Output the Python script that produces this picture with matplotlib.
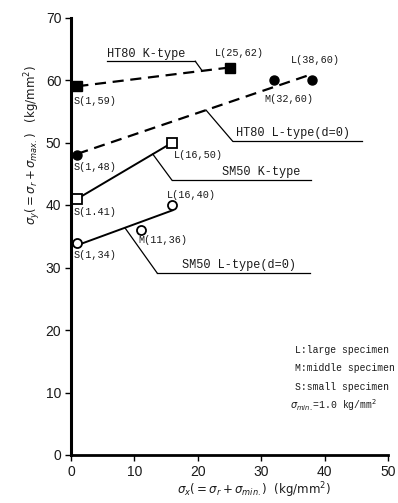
import numpy as np
import matplotlib
matplotlib.use("Agg")
import matplotlib.pyplot as plt

# ---- data (kg/mm^2) ----
ht80_k_x = [1, 25]
ht80_k_y = [59, 62]
ht80_k_labels = ["S(1,59)", "L(25,62)"]

ht80_l_x = [1, 32, 38]
ht80_l_y = [48, 60, 60]
ht80_l_labels = ["S(1,48)", "M(32,60)", "L(38,60)"]

sm50_k_x = [1, 16]
sm50_k_y = [41, 50]
sm50_k_labels = ["S(1.41)", "L(16,50)"]

sm50_l_x = [1, 11, 16]
sm50_l_y = [34, 36, 40]
sm50_l_labels = ["S(1,34)", "M(11,36)", "L(16,40)"]

x_ticks = [0, 10, 20, 30, 40, 50]
y_ticks = [0, 10, 20, 30, 40, 50, 60, 70]

legend_lines = ["L:large specimen", "M:middle specimen", "S:small specimen",
                r"$\sigma_{min.}$=1.0 kg/mm$^2$"]

MONO = "Liberation Mono"
INK = "#1a1a1a"

fig = plt.figure(figsize=(3.98, 5.03), dpi=100)
ax = fig.add_axes([71 / 398, 48 / 503, 317 / 398, 437.5 / 503])
ax.set_xlim(0, 50)
ax.set_ylim(0, 70)
for s in ("top", "right"):
    ax.spines[s].set_visible(False)
ax.spines["left"].set_linewidth(2.2)
ax.spines["bottom"].set_linewidth(2.0)
ax.set_xticks(x_ticks)
ax.set_yticks(y_ticks)
ax.tick_params(direction="out", length=4, width=1, labelsize=10, pad=3,
               labelcolor=INK)
for lab in ax.get_xticklabels() + ax.get_yticklabels():
    lab.set_family("Liberation Sans")


def fit_line(x, y):
    k, b = np.polyfit(x, y, 1)
    return lambda t: k * np.asarray(t) + b


# HT80 K-type: dashed line joining the two specimens
ax.plot(ht80_k_x, ht80_k_y, color="black", lw=1.6, ls=(0, (5, 3)))
ax.plot(ht80_k_x, ht80_k_y, ls="none", marker="s", ms=6.5, color="black")

# HT80 L-type: least-squares dashed line
f_ht80_l = fit_line(ht80_l_x, ht80_l_y)
xs = np.array([min(ht80_l_x), max(ht80_l_x)])
ax.plot(xs, f_ht80_l(xs), color="black", lw=1.6, ls=(0, (5, 3)))
ax.plot(ht80_l_x, ht80_l_y, ls="none", marker="o", ms=6.5, color="black")

# SM50 K-type: solid line joining the two specimens
ax.plot(sm50_k_x, sm50_k_y, color="black", lw=1.4)
ax.plot(sm50_k_x, sm50_k_y, ls="none", marker="s", ms=6.5, mfc="white",
        mec="black", mew=1.3)

# SM50 L-type: least-squares solid line
f_sm50_l = fit_line(sm50_l_x, sm50_l_y)
xs = np.array([min(sm50_l_x), max(sm50_l_x)])
ax.plot(xs, f_sm50_l(xs), color="black", lw=1.4)
ax.plot(sm50_l_x, sm50_l_y, ls="none", marker="o", ms=6.5, mfc="white",
        mec="black", mew=1.3)

# point labels, offset (pixels) from each marker
def point_labels(xv, yv, labels, offsets):
    for x, y, t, (dx, dy) in zip(xv, yv, labels, offsets):
        ax.annotate(t, (x, y), xytext=(dx, dy), textcoords="offset pixels",
                    ha="left", va="center", fontsize=7.3, family=MONO,
                    color=INK)

point_labels(ht80_k_x, ht80_k_y, ht80_k_labels, [(-4, -15), (-15, 14)])
point_labels(ht80_l_x, ht80_l_y, ht80_l_labels, [(-4, -12), (-10, -19), (-21, 20)])
point_labels(sm50_k_x, sm50_k_y, sm50_k_labels, [(-4, -13), (1, -13)])
point_labels(sm50_l_x, sm50_l_y, sm50_l_labels, [(-4, -12), (-2, -10), (-6, 10)])


# series names, underlined, with a leader to the line
def series_name(text, tx, ty, ux0, ux1, uy, lead_x, line_f, lead_from_left=True):
    ax.text(tx, ty, text, ha="left", va="center", fontsize=8.6, family=MONO,
            color=INK)
    ax.plot([ux0, ux1], [uy, uy], color="black", lw=0.9)
    sx = ux0 if lead_from_left else ux1
    ax.plot([sx, lead_x], [uy, float(line_f(lead_x))], color="black", lw=0.9)


f_ht80_k = fit_line(ht80_k_x, ht80_k_y)
f_sm50_k = fit_line(sm50_k_x, sm50_k_y)

series_name("HT80 K-type", 5.7, 64.1, 5.7, 19.6, 63.0, 20.7, f_ht80_k,
            lead_from_left=False)
series_name("HT80 L-type(d=0)", 26.0, 51.5, 25.5, 45.9, 50.2, 21.3, f_ht80_l)
series_name("SM50 K-type", 23.8, 45.2, 15.9, 37.9, 44.0, 12.9, f_sm50_k)
series_name("SM50 L-type(d=0)", 17.5, 30.4, 13.6, 37.7, 29.1, 8.5, f_sm50_l)

# explanatory notes
for i, t in enumerate(legend_lines):
    xoff = 35.3 if i < 3 else 34.5
    ax.text(xoff, 16.8 - 2.95 * i, t, ha="left", va="center", fontsize=7,
            family=MONO, color=INK)

# axis titles
fig.text(254 / 398, 1 - 490 / 503,
         r"$\sigma_x(=\sigma_r+\sigma_{min.})$  (kg/mm$^2$)",
         ha="center", va="center", fontsize=8.5, color=INK)
fig.text(33 / 398, 1 - 145 / 503,
         r"$\sigma_y(=\sigma_r+\sigma_{max.})$   (kg/mm$^2$)",
         ha="center", va="center", fontsize=8.5, rotation=90, color=INK)

fig.savefig("out.png", dpi=100)
